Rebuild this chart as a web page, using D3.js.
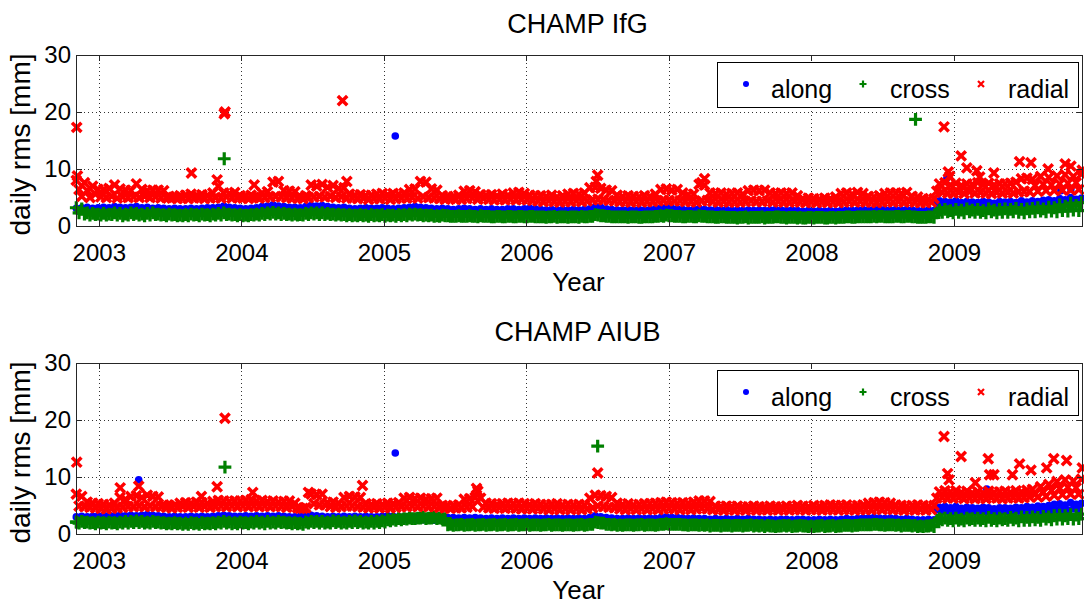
<!DOCTYPE html>
<html><head><meta charset="utf-8">
<script src="https://cdn.jsdelivr.net/npm/d3@7"></script>
<style>
body{margin:0;background:#fff}
svg{display:block}
text{font-family:"Liberation Sans",Arial,Helvetica,sans-serif;fill:#000}
</style>
</head><body><svg id="c" width="1084" height="604"></svg>
<script>
// ---- axis / tick data ----
const yearTicks = [2003, 2004, 2005, 2006, 2007, 2008, 2009];
const rmsTicks = [0, 10, 20, 30];
const timeDomain = [2002.84, 2009.905];
const rmsDomain = [0, 30];
const seriesNames = ["along", "cross", "radial"];
const titles = ["CHAMP IfG", "CHAMP AIUB"];
// weekly samples (spread of the daily scatter), starting 2002.842
const sampleStart = 2002.842;
const sampleStepDays = 7;

// ---- CHAMP IfG ----
const ifgAlong = [
3.1,2.6,3.2,2.7,3.3,2.6,3.1,2.7,3.2,2.6, 3.3,2.7,3.2,2.6,3.4,2.7,3.3,2.6,3.2,2.7,
3.3,2.6,3.4,2.7,3.2,2.6,3.3,2.7,3.1,2.6, 3.2,2.6,3.1,2.5,3.0,2.6,3.1,2.5,3.0,2.6,
3.0,2.5,3.1,2.6,3.0,2.5,3.1,2.6,3.2,2.6, 3.2,2.6,3.3,2.7,3.5,2.7,3.3,2.6,3.2,2.7,
3.1,2.6,3.0,2.5,3.1,2.6,3.2,2.6,3.4,2.7, 3.5,2.8,3.7,2.8,3.5,2.7,3.4,2.7,3.3,2.6,
3.3,2.7,3.2,2.6,3.4,2.7,3.6,2.8,3.5,2.7, 3.6,2.8,3.4,2.7,3.3,2.7,3.2,2.6,3.3,2.7,
3.1,2.6,3.0,2.5,3.1,2.6,3.2,2.6,3.1,2.5, 3.1,2.6,3.2,2.5,3.1,2.6,3.0,2.5,3.1,2.6,
3.2,2.6,3.3,2.7,3.4,2.7,3.3,2.6,3.2,2.6, 3.1,2.5,3.0,2.5,3.1,2.6,3.0,2.5,2.9,2.4,
3.0,2.5,3.1,2.5,3.0,2.4,2.9,2.5,3.0,2.4, 2.9,2.4,3.0,2.5,2.9,2.4,2.9,2.4,3.0,2.5,
3.0,2.4,2.9,2.5,3.0,2.4,3.1,2.5,3.0,2.4, 2.9,2.4,2.8,2.3,2.9,2.4,2.8,2.3,2.9,2.4,
2.8,2.3,2.9,2.4,2.8,2.3,2.9,2.4,3.0,2.4, 3.4,2.6,3.3,2.5,3.0,2.4,2.9,2.4,2.8,2.3,
2.8,2.3,2.9,2.4,2.8,2.3,2.9,2.4,2.8,2.3, 2.9,2.4,3.0,2.4,3.2,2.5,3.3,2.5,3.1,2.4,
3.0,2.4,2.9,2.4,2.8,2.3,2.9,2.4,3.0,2.3, 2.9,2.3,2.8,2.3,2.9,2.4,2.8,2.3,2.9,2.3,
2.7,2.2,2.8,2.3,2.7,2.2,2.8,2.3,2.7,2.2, 2.8,2.3,2.7,2.2,2.8,2.3,2.9,2.3,2.8,2.2,
2.7,2.2,2.8,2.2,2.7,2.2,2.6,2.1,2.7,2.2, 2.6,2.1,2.7,2.2,2.6,2.1,2.7,2.2,2.6,2.1,
2.7,2.2,2.8,2.2,2.7,2.2,2.8,2.3,2.9,2.3, 2.8,2.2,2.9,2.3,3.0,2.4,2.9,2.3,2.8,2.3,
2.9,2.3,2.8,2.3,2.9,2.3,2.8,2.2,2.7,2.2, 2.7,2.2,2.8,2.2,2.7,4.0,4.4,3.6,4.3,3.7,
4.2,3.6,4.4,3.7,4.1,3.5,4.3,3.6,4.2,3.5, 4.1,3.5,4.3,3.6,4.2,3.5,4.0,3.4,4.3,3.6,
4.2,3.6,4.3,3.5,4.1,3.6,4.4,3.7,4.2,3.6, 4.4,3.7,4.3,3.8,4.5,3.7,4.6,3.8,4.4,3.7,
4.8,3.9,4.6,4.0,5.0,4.1,4.7,4.0,4.9];
const ifgCross = [
3.2,2.3,3.0,2.1,2.3,1.9,2.2,2.0,2.1,1.9, 2.2,1.9,2.1,2.0,2.3,1.9,2.2,1.8,2.1,1.9,
2.3,2.0,2.2,1.9,2.1,1.8,2.2,1.9,2.3,2.0, 2.1,1.9,2.0,1.8,2.1,1.9,2.0,1.8,1.9,1.8,
2.0,1.8,2.1,1.9,2.0,1.8,2.1,1.9,2.0,1.8, 2.1,1.9,2.2,1.9,2.3,2.0,2.1,1.9,2.0,1.8,
2.0,1.8,1.9,1.8,2.0,1.9,2.1,1.9,2.2,2.0, 2.3,2.1,2.4,2.1,2.3,2.0,2.2,2.0,2.1,1.9,
2.1,1.9,2.0,1.9,2.2,2.0,2.3,2.1,2.3,2.0, 2.3,2.0,2.2,2.0,2.1,1.9,2.1,1.9,2.0,1.8,
2.0,1.8,1.9,1.8,2.0,1.8,1.9,1.7,2.0,1.8, 1.9,1.8,2.0,1.7,1.9,1.8,1.9,1.7,2.0,1.8,
2.0,1.8,2.1,1.9,2.1,1.9,2.0,1.8,1.9,1.8, 1.9,1.7,1.8,1.7,1.9,1.8,1.8,1.7,1.7,1.7,
1.8,1.7,1.7,1.7,1.8,1.7,1.7,1.6,1.8,1.7, 1.7,1.7,1.6,1.6,1.7,1.7,1.6,1.6,1.7,1.7,
1.6,1.6,1.7,1.7,1.6,1.6,1.7,1.7,1.6,1.6, 1.6,1.6,1.5,1.6,1.6,1.7,1.5,1.6,1.6,1.6,
1.5,1.6,1.6,1.6,1.5,1.7,1.6,1.6,1.7,1.7, 2.0,1.9,1.8,1.8,1.7,1.7,1.6,1.6,1.6,1.6,
1.6,1.6,1.5,1.6,1.6,1.6,1.5,1.5,1.6,1.6, 1.6,1.6,1.7,1.7,1.8,1.7,1.9,1.8,1.8,1.7,
1.7,1.7,1.6,1.6,1.7,1.7,1.6,1.6,1.8,1.7, 1.7,1.6,1.6,1.6,1.5,1.5,1.6,1.6,1.5,1.5,
1.5,1.5,1.4,1.5,1.5,1.6,1.4,1.5,1.5,1.5, 1.5,1.6,1.4,1.5,1.5,1.5,1.6,1.6,1.5,1.5,
1.4,1.5,1.5,1.5,1.4,1.5,1.4,1.4,1.5,1.5, 1.4,1.5,1.5,1.5,1.4,1.4,1.5,1.5,1.4,1.5,
1.5,1.5,1.6,1.6,1.5,1.5,1.6,1.6,1.6,1.6, 1.6,1.6,1.7,1.6,1.7,1.7,1.6,1.6,1.6,1.6,
1.7,1.7,1.6,1.6,1.7,1.7,1.6,1.6,1.5,1.5, 1.5,1.5,1.6,1.6,1.5,2.3,2.8,2.4,2.9,2.5,
2.7,2.3,2.9,2.4,2.8,2.3,3.0,2.5,2.8,2.4, 2.9,2.4,2.7,2.3,3.0,2.5,2.8,2.3,2.9,2.4,
3.0,2.4,2.9,2.5,3.1,2.4,2.9,2.3,3.0,2.5, 3.1,2.5,3.2,2.6,3.0,2.5,3.3,2.6,3.2,2.5,
3.7,2.7,3.5,2.6,4.0,2.8,3.6,2.7,4.1];
const ifgRadial = [
8.0,6.4,5.2,7.6,6.2,5.0,7.0,5.6,6.4,5.1, 6.4,5.0,6.6,5.2,7.2,4.9,6.5,5.1,6.3,5.0,
6.2,5.1,7.4,5.0,6.4,5.2,6.2,5.0,6.3,5.1, 6.3,4.9,6.2,5.0,5.2,4.9,5.1,4.8,5.3,4.9,
5.4,4.8,5.6,4.9,5.3,5.0,5.5,4.8,5.4,4.9, 5.8,5.0,7.0,4.9,5.8,5.1,5.7,4.9,5.9,5.0,
5.3,4.9,5.2,4.8,5.4,5.0,5.2,4.9,5.8,5.0, 6.0,5.1,7.7,5.2,7.8,5.1,6.2,5.0,6.1,4.9,
6.0,4.9,5.2,4.8,5.3,5.0,7.2,5.1,7.0,5.2, 7.3,5.1,6.8,5.2,7.1,5.0,6.6,5.1,6.7,4.9,
5.6,4.9,5.4,4.8,5.5,4.9,5.3,4.7,5.4,4.8, 5.6,4.8,5.7,4.9,5.5,4.7,5.7,4.8,5.6,4.9,
5.8,4.9,6.4,5.0,6.5,4.9,7.8,5.1,7.7,5.0, 6.5,4.9,6.3,4.8,5.3,4.7,5.2,4.8,5.1,4.7,
5.4,4.7,6.1,4.8,6.2,4.9,6.0,4.7,5.5,4.8, 5.4,4.7,5.5,4.6,5.3,4.7,5.6,4.6,5.4,4.7,
5.8,4.6,5.9,4.7,5.7,4.6,5.4,4.5,5.3,4.4, 5.3,4.3,5.2,4.4,5.4,4.3,5.1,4.2,5.3,4.3,
5.6,4.3,5.7,4.4,5.6,4.3,5.8,4.4,6.7,4.6, 6.8,4.7,6.6,4.6,6.3,4.5,6.2,4.4,5.4,4.3,
5.2,4.3,5.3,4.2,5.2,4.3,5.1,4.2,5.3,4.3, 5.2,4.3,5.6,4.4,6.4,4.5,6.5,4.5,6.3,4.4,
6.4,4.4,5.8,4.3,5.5,4.3,5.6,4.2,7.3,4.4, 7.2,4.5,5.8,4.3,5.7,4.2,5.8,4.3,5.6,4.2,
5.7,4.2,5.8,4.2,5.6,4.3,6.2,4.4,6.3,4.3, 6.2,4.3,6.3,4.4,5.8,4.2,5.7,4.3,5.8,4.2,
5.7,4.2,5.8,4.3,5.3,4.2,4.8,4.1,4.9,4.2, 4.8,4.1,4.7,4.2,4.9,4.1,4.8,4.2,5.1,4.1,
5.7,4.2,5.8,4.3,5.6,4.2,5.9,4.3,5.7,4.2, 5.2,4.2,5.1,4.1,5.3,4.2,5.7,4.3,5.8,4.2,
5.8,4.3,5.7,4.2,5.9,4.3,5.2,4.2,5.1,4.1, 4.8,4.1,4.7,4.2,4.8,6.1,7.4,5.9,7.6,5.8,
7.2,5.8,7.5,5.9,7.1,5.7,7.4,6.0,7.3,5.8, 7.6,5.9,7.3,5.8,7.5,5.7,7.2,5.9,7.4,5.8,
7.4,5.9,7.5,5.8,7.7,6.0,8.3,6.1,8.4,6.0, 8.2,7.1,6.1,8.7,7.3,6.2,8.5,7.2,6.2,8.8,
7.4,6.3,9.0,7.5,6.3,8.7,7.6,6.4,9.1];
// isolated days [decimal year, rms]
const ifgAlongOut = [[2005.08,15.8],[2008.95,8.4],[2009.75,6.2],[2009.82,6.5]];
const ifgCrossOut = [[2003.88,11.8],[2008.73,18.7]];
const ifgRadialOut = [[2002.845,17.3],[2002.85,8.8],[2003.65,9.3],[2003.83,8.1],[2003.88,19.7],[2003.886,20.0],
 [2004.09,7.2],[2004.71,22.0],[2004.74,7.8],[2006.49,7.8],[2006.5,8.9],[2007.23,7.6],[2007.25,8.3],
 [2008.93,17.4],[2008.96,9.5],[2008.97,8.7],[2009.05,12.3],[2009.09,10.2],[2009.16,9.7],[2009.18,8.6],
 [2009.28,9.3],[2009.46,11.3],[2009.54,11.1],[2009.66,10.0],[2009.78,10.9],[2009.82,10.5],[2009.9,9.8]];

// ---- CHAMP AIUB ----
const aiubAlong = [
3.0,2.5,3.1,2.6,3.0,2.5,3.1,2.6,3.2,2.6, 3.2,2.6,3.3,2.7,3.2,2.6,3.3,2.7,3.2,2.6,
3.3,2.7,3.2,2.6,3.3,2.7,3.4,2.7,3.3,2.6, 3.2,2.6,3.1,2.6,3.0,2.5,3.1,2.6,3.0,2.5,
3.0,2.5,3.1,2.5,3.0,2.4,3.1,2.5,3.0,2.5, 3.1,2.5,3.2,2.6,3.3,2.6,3.2,2.6,3.1,2.5,
3.1,2.5,3.2,2.6,3.1,2.5,3.2,2.6,3.1,2.5, 3.2,2.6,3.1,2.5,3.2,2.6,3.1,2.5,3.0,2.5,
3.0,2.4,3.1,2.5,3.2,2.6,3.3,2.6,3.2,2.6, 3.1,2.5,3.0,2.5,3.1,2.5,3.0,2.4,3.1,2.5,
3.0,2.5,3.1,2.5,3.0,2.4,3.1,2.5,3.0,2.4, 3.0,2.4,3.1,2.5,3.2,2.6,3.1,2.5,3.0,2.5,
3.0,2.5,3.1,2.5,3.0,2.4,3.1,2.5,3.0,2.4, 3.0,2.4,3.1,2.5,3.0,2.4,2.9,2.4,2.9,2.3,
2.8,2.3,2.9,2.3,2.8,2.2,2.9,2.3,2.8,2.3, 2.7,2.2,2.8,2.3,2.7,2.2,2.8,2.2,2.7,2.2,
2.8,2.3,2.7,2.2,2.8,2.2,2.7,2.2,2.8,2.3, 2.7,2.2,2.8,2.3,2.7,2.2,2.8,2.2,2.7,2.2,
2.8,2.2,2.7,2.2,2.8,2.3,2.7,2.2,2.9,2.3, 3.2,2.5,3.0,2.4,2.9,2.3,2.8,2.3,2.7,2.2,
2.7,2.2,2.8,2.2,2.7,2.2,2.8,2.3,2.7,2.2, 2.8,2.2,2.7,2.2,2.9,2.3,3.0,2.4,2.9,2.3,
2.9,2.3,2.8,2.2,2.7,2.2,2.8,2.3,2.7,2.2, 2.7,2.2,2.6,2.1,2.7,2.2,2.6,2.1,2.7,2.1,
2.6,2.1,2.7,2.1,2.6,2.1,2.7,2.2,2.6,2.1, 2.6,2.1,2.5,2.0,2.6,2.1,2.5,2.0,2.6,2.1,
2.6,2.1,2.5,2.0,2.6,2.1,2.6,2.0,2.5,2.0, 2.5,2.0,2.6,2.1,2.5,2.0,2.6,2.1,2.5,2.0,
2.6,2.1,2.7,2.1,2.6,2.1,2.7,2.2,2.8,2.2, 2.8,2.2,2.9,2.3,2.8,2.2,2.7,2.2,2.8,2.2,
2.7,2.2,2.6,2.1,2.7,2.1,2.6,2.1,2.5,2.0, 2.5,2.0,2.6,2.1,2.5,4.2,4.7,3.9,4.8,4.0,
4.6,3.9,4.8,4.0,4.5,3.8,4.7,3.9,4.6,3.8, 4.5,3.8,4.7,3.9,4.6,3.8,4.4,3.7,4.6,3.9,
4.6,3.9,4.5,3.8,4.7,4.0,4.6,3.9,4.8,4.0, 4.7,4.0,4.9,4.1,4.8,4.0,5.0,4.1,5.2,4.2,
5.3,4.3,5.1,4.2,5.5,4.4,5.2,4.3,5.4];
const aiubCross = [
2.1,1.9,2.2,2.0,2.1,1.9,2.0,1.8,2.1,1.9, 2.0,1.8,2.1,1.9,2.0,1.8,2.1,1.9,2.2,1.9,
2.2,2.0,2.3,2.0,2.2,1.9,2.1,1.9,2.2,2.0, 2.1,1.9,2.0,1.8,1.9,1.8,2.0,1.8,1.9,1.7,
1.9,1.7,2.0,1.8,1.9,1.7,2.0,1.8,1.9,1.8, 2.0,1.8,2.1,1.9,2.2,1.9,2.1,1.8,2.0,1.8,
2.1,1.9,2.0,1.8,2.1,1.9,2.2,1.9,2.1,1.8, 2.2,1.9,2.1,1.9,2.2,2.0,2.1,1.9,2.0,1.8,
2.0,1.8,1.9,1.7,2.1,1.9,2.2,2.0,2.2,1.9, 2.2,1.9,2.1,1.9,2.3,2.0,2.2,1.9,2.1,1.9,
2.2,2.0,2.3,2.0,2.2,1.9,2.1,1.9,2.2,1.9, 2.2,2.0,2.3,2.1,2.5,2.3,2.6,2.4,2.7,2.5,
2.7,2.6,2.8,2.7,2.7,2.8,2.8,2.9,2.7,2.8, 2.8,2.9,2.7,2.8,2.7,2.7,1.6,1.7,1.5,1.6,
1.6,1.7,1.5,1.6,1.6,1.7,1.5,1.6,1.6,1.7, 1.5,1.6,1.6,1.7,1.5,1.6,1.6,1.7,1.5,1.6,
1.6,1.7,1.5,1.6,1.6,1.7,1.5,1.6,1.6,1.6, 1.5,1.6,1.6,1.7,1.5,1.6,1.6,1.6,1.5,1.6,
1.6,1.6,1.5,1.6,1.6,1.7,1.5,1.6,1.7,1.7, 2.1,2.0,1.9,1.9,1.7,1.7,1.6,1.7,1.5,1.6,
1.5,1.6,1.6,1.6,1.5,1.6,1.6,1.7,1.5,1.6, 1.6,1.6,1.5,1.6,1.7,1.7,1.8,1.7,1.7,1.7,
1.7,1.7,1.6,1.6,1.5,1.6,1.6,1.6,1.5,1.6, 1.5,1.6,1.4,1.5,1.5,1.5,1.4,1.5,1.5,1.5,
1.4,1.5,1.5,1.5,1.4,1.5,1.5,1.6,1.4,1.5, 1.4,1.5,1.3,1.5,1.4,1.4,1.3,1.4,1.4,1.5,
1.4,1.5,1.3,1.4,1.4,1.5,1.4,1.4,1.3,1.4, 1.3,1.4,1.4,1.5,1.3,1.4,1.4,1.5,1.3,1.4,
1.4,1.5,1.5,1.5,1.4,1.5,1.5,1.6,1.6,1.6, 1.6,1.6,1.7,1.7,1.6,1.6,1.5,1.6,1.6,1.6,
1.5,1.6,1.4,1.5,1.5,1.5,1.4,1.5,1.3,1.4, 1.3,1.4,1.4,1.5,1.3,2.4,2.7,2.5,2.8,2.4,
2.7,2.3,2.8,2.4,2.6,2.3,2.8,2.5,2.7,2.4, 2.8,2.4,2.7,2.3,2.9,2.4,2.7,2.3,2.8,2.5,
2.7,2.4,2.9,2.5,2.8,2.3,3.0,2.4,2.9,2.4, 3.0,2.5,2.9,2.4,3.1,2.6,3.0,2.5,3.2,2.6,
3.3,2.6,3.2,2.7,3.4,2.6,3.3,2.7,3.5];
const aiubRadial = [
7.0,4.9,6.6,4.8,5.6,4.7,5.4,4.6,5.3,4.5, 5.2,4.4,5.1,4.5,5.4,4.6,6.4,4.7,6.1,4.8,
6.6,4.8,6.7,4.9,6.4,4.8,6.8,4.9,6.6,4.8, 6.5,4.8,5.1,4.7,5.0,4.6,5.1,4.7,5.4,4.8,
5.5,4.7,5.4,4.8,5.6,4.7,5.5,4.8,5.4,4.7, 5.7,4.8,5.9,4.9,5.8,4.8,5.7,4.9,5.8,4.8,
5.8,4.9,5.9,4.8,6.0,4.9,5.8,4.8,5.9,4.9, 5.7,4.8,5.8,4.9,5.6,4.8,5.7,4.7,5.8,4.8,
5.4,4.6,4.5,4.5,4.6,7.3,7.0,5.3,6.9,5.1, 7.0,5.1,5.5,4.8,5.6,4.7,5.4,4.8,6.4,4.9,
6.6,4.9,6.5,4.8,6.4,4.7,5.3,4.6,5.2,4.7, 5.3,4.6,5.2,4.7,5.4,4.6,5.3,4.7,5.5,4.8,
6.3,4.8,6.4,4.9,6.2,4.8,6.3,4.9,6.1,4.8, 6.2,4.8,6.3,4.7,5.0,4.6,4.9,4.5,5.0,4.6,
5.1,4.6,6.1,4.7,6.2,4.8,6.4,7.5,6.3,4.7, 5.4,4.6,5.3,4.5,5.2,4.6,5.3,4.5,5.4,4.6,
5.3,4.5,5.4,4.4,5.3,4.5,5.2,4.4,5.3,4.5, 5.2,4.4,5.1,4.3,5.2,4.4,5.3,4.3,5.1,4.4,
5.2,4.3,5.1,4.4,5.2,4.3,5.1,4.4,6.3,4.6, 6.8,4.9,6.7,4.8,6.6,4.7,6.4,4.6,5.4,4.4,
5.2,4.3,5.3,4.4,5.1,4.3,5.2,4.4,5.3,4.3, 5.3,4.4,5.4,4.3,5.5,4.4,5.6,4.5,5.5,4.4,
5.4,4.3,5.5,4.4,5.4,4.3,5.6,4.4,5.8,4.5, 5.8,4.4,5.7,4.3,4.9,4.3,4.8,4.2,4.9,4.3,
4.8,4.2,4.9,4.3,4.7,4.2,4.8,4.3,4.9,4.2, 4.8,4.3,4.7,4.2,4.9,4.3,4.8,4.2,4.7,4.3,
4.9,4.2,4.8,4.3,5.0,4.3,4.9,4.2,4.8,4.3, 5.0,4.3,4.9,4.2,5.0,4.3,5.1,4.3,5.0,4.2,
5.0,4.3,5.1,4.3,4.9,4.2,5.0,4.3,5.1,4.3, 5.4,4.3,5.5,4.4,5.6,4.3,5.5,4.4,5.4,4.3,
5.1,4.3,5.0,4.2,4.9,4.3,5.0,4.2,5.1,4.3, 5.0,4.2,4.9,4.3,5.0,6.3,7.4,6.4,7.6,6.3,
7.4,6.3,7.6,6.4,7.3,6.2,7.5,6.3,7.2,6.2, 7.4,6.3,7.2,6.2,7.5,6.4,7.3,6.3,7.4,6.2,
7.5,6.3,7.3,6.4,7.6,6.3,7.4,6.4,7.7,6.5, 7.8,7.0,6.5,8.3,7.3,6.6,8.7,7.6,6.8,9.2,
8.0,6.9,9.5,8.2,7.0,9.3,8.1,7.0,9.6];
const aiubAlongOut = [[2003.28,9.5],[2005.08,14.2],[2009.23,7.9]];
const aiubCrossOut = [[2002.845,2.1],[2003.885,11.75],[2006.5,15.4]];
const aiubRadialOut = [[2002.845,12.6],[2003.15,8.1],[2003.28,8.4],[2003.72,6.6],[2003.83,8.3],[2003.885,20.3],
 [2004.08,7.3],[2004.85,8.5],[2005.65,8.0],[2006.5,10.7],[2008.93,17.1],[2008.955,10.6],[2008.965,9.5],
 [2009.05,13.6],[2009.15,9.0],[2009.24,13.2],[2009.25,10.4],[2009.28,10.4],[2009.41,10.4],[2009.46,12.3],
 [2009.54,11.2],[2009.65,11.6],[2009.7,13.2],[2009.79,12.9],[2009.9,11.6]];

// ---- layout ----
const left = 76, right = 1083;
const panels = [
  {title: titles[0], top: 55, bottom: 226, series: [ifgAlong, ifgCross, ifgRadial], outs: [ifgAlongOut, ifgCrossOut, ifgRadialOut]},
  {title: titles[1], top: 363, bottom: 534, series: [aiubAlong, aiubCross, aiubRadial], outs: [aiubAlongOut, aiubCrossOut, aiubRadialOut]}
];
const colors = ["#0000ff", "#008000", "#ff0000"];
const svg = d3.select("#c");
const x = d3.scaleLinear().domain(timeDomain).range([left, right]);
const stepYears = sampleStepDays / 365.25;

function toPoints(vals, outs) {
  return vals.map((v, i) => [sampleStart + i * stepYears, v]).concat(outs);
}
const plusPath = s => `M${-s},0H${s}M0,${-s}V${s}`;
const crossPath = s => `M${-s},${-s}L${s},${s}M${-s},${s}L${s},${-s}`;

function legendMarker(g, kind, color) {
  if (kind === 0) g.append("circle").attr("r", 3).attr("fill", color);
  else if (kind === 1) g.append("path").attr("d", plusPath(3.5)).attr("stroke", color).attr("stroke-width", 2.2).attr("fill", "none");
  else g.append("path").attr("d", crossPath(3)).attr("stroke", color).attr("stroke-width", 2.2).attr("fill", "none");
}

panels.forEach(p => {
  const y = d3.scaleLinear().domain(rmsDomain).range([p.bottom, p.top]);
  const g = svg.append("g");
  // grid
  const grid = g.append("g").attr("stroke", "#333").attr("stroke-width", 1).attr("stroke-dasharray", "1,3").attr("shape-rendering", "crispEdges");
  yearTicks.forEach(t => grid.append("line").attr("x1", Math.round(x(t)) + 0.5).attr("x2", Math.round(x(t)) + 0.5).attr("y1", p.top).attr("y2", p.bottom));
  rmsTicks.filter(v => v > 0 && v < 30).forEach(v => grid.append("line").attr("y1", Math.round(y(v)) + 0.5).attr("y2", Math.round(y(v)) + 0.5).attr("x1", left).attr("x2", right));

  // series: along, cross, radial in that order
  p.series.forEach((vals, k) => {
    const pts = toPoints(vals, p.outs[k]);
    const sg = g.append("g");
    if (k === 0) {
      sg.selectAll("circle").data(pts).join("circle")
        .attr("cx", d => x(d[0])).attr("cy", d => y(d[1])).attr("r", 3.8).attr("fill", colors[k]);
    } else {
      const dstr = k === 1 ? plusPath(4.8) : crossPath(4.7);
      sg.selectAll("path").data(pts).join("path")
        .attr("transform", d => `translate(${x(d[0])},${y(d[1])})`)
        .attr("d", dstr).attr("stroke", colors[k]).attr("stroke-width", k === 1 ? 3.2 : 3.5)
        .attr("stroke-linecap", k === 1 ? "square" : "butt").attr("fill", "none");
    }
  });

  // axes
  const axColor = "#262626";
  const bx = g.append("g").attr("transform", `translate(0,${p.bottom})`)
    .call(d3.axisBottom(x).tickValues(yearTicks).tickFormat(d3.format("d")).tickSize(-6).tickPadding(18));
  const tx = g.append("g").attr("transform", `translate(0,${p.top})`)
    .call(d3.axisTop(x).tickValues(yearTicks).tickFormat("").tickSize(-6));
  const ly = g.append("g").attr("transform", `translate(${left},0)`)
    .call(d3.axisLeft(y).tickValues(rmsTicks).tickSize(-6).tickPadding(5));
  const ry = g.append("g").attr("transform", `translate(${right},0)`)
    .call(d3.axisRight(y).tickValues(rmsTicks).tickFormat("").tickSize(-6));
  [bx, tx, ly, ry].forEach(a => {
    a.select(".domain").remove();
    a.selectAll("line").attr("stroke", axColor).attr("shape-rendering", "crispEdges");
    a.selectAll("text").attr("font-size", 24).attr("font-family", '"Liberation Sans",Arial,sans-serif').attr("fill", "#000");
  });
  g.append("rect").attr("x", left + 0.5).attr("y", p.top + 0.5).attr("width", right - left - 1).attr("height", p.bottom - p.top)
    .attr("fill", "none").attr("stroke", axColor).attr("shape-rendering", "crispEdges");

  // labels
  g.append("text").attr("x", (left + right) / 2 - 2).attr("y", p.top - 22).attr("text-anchor", "middle").attr("font-size", 27).text(p.title);
  g.append("text").attr("x", (left + right) / 2 - 1).attr("y", p.bottom + 65).attr("text-anchor", "middle").attr("font-size", 26).text("Year");
  g.append("text").attr("transform", `translate(30,${(p.top + p.bottom) / 2 + 4}) rotate(-90)`).attr("text-anchor", "middle").attr("font-size", 28).text("daily rms [mm]");

  // legend
  const lg = g.append("g").attr("transform", `translate(0,${p.top})`);
  lg.append("rect").attr("x", 717.5).attr("y", 7.5).attr("width", 361).attr("height", 45).attr("fill", "#fff").attr("stroke", "#000").attr("shape-rendering", "crispEdges");
  const items = [{mx: 746, tx: 771}, {mx: 863, tx: 890}, {mx: 981, tx: 1008}];
  items.forEach((it, k) => {
    legendMarker(lg.append("g").attr("transform", `translate(${it.mx},29)`), k, colors[k]);
    lg.append("text").attr("x", it.tx).attr("y", 43).attr("font-size", 25).text(seriesNames[k]);
  });
});
</script>
</body></html>
